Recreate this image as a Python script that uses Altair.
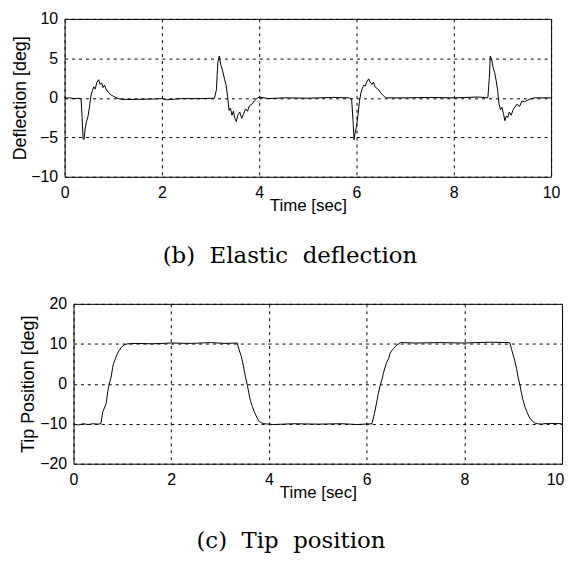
import altair as alt
import pandas as pd

# ---- (b) Elastic deflection ----
defl_t = [0.00, 0.10, 0.20, 0.30, 0.34, 0.36, 0.38, 0.40, 0.42, 0.45, 0.48, 0.51, 0.54, 0.57,
          0.60, 0.63, 0.66, 0.70, 0.73, 0.76, 0.79, 0.82, 0.86, 0.90, 0.95, 1.00, 1.10, 1.20,
          1.50, 1.80, 2.00, 2.10, 2.40, 2.80, 3.08, 3.12, 3.15, 3.18, 3.21, 3.25, 3.29, 3.32,
          3.35, 3.38, 3.41, 3.44, 3.47, 3.50, 3.53, 3.56, 3.60, 3.64, 3.68, 3.72, 3.76, 3.80,
          3.85, 3.90, 3.95, 4.00, 4.20, 4.50, 5.00, 5.50, 5.85, 5.90, 5.93, 5.95, 5.97, 6.00,
          6.03, 6.06, 6.09, 6.12, 6.15, 6.18, 6.21, 6.25, 6.28, 6.32, 6.35, 6.38, 6.42, 6.46,
          6.50, 6.55, 6.60, 7.00, 7.50, 8.00, 8.50, 8.70, 8.73, 8.75, 8.78, 8.81, 8.84, 8.87,
          8.90, 8.93, 8.96, 8.99, 9.02, 9.05, 9.08, 9.11, 9.14, 9.18, 9.22, 9.25, 9.30, 9.35,
          9.40, 9.45, 9.55, 9.65, 10.0]
defl_v = [-0.05, 0.0, -0.1, -0.05, -0.2, -2.5, -5.2, -5.3, -4.0, -3.0, -2.4, -1.2, 0.2, 0.9,
          1.4, 1.1, 1.9, 2.3, 1.7, 1.9, 1.3, 1.6, 1.0, 0.7, 0.4, 0.2, -0.1, -0.2,
          -0.2, -0.15, -0.1, -0.25, -0.1, -0.1, -0.05, 1.0, 4.5, 5.3, 4.2, 3.4, 2.3, 1.6,
          0.2, -1.6, -1.3, -2.2, -1.7, -2.6, -3.0, -2.2, -1.8, -2.6, -2.0, -1.4, -1.7, -1.0,
          -0.8, -0.4, -0.1, 0.1, -0.1, 0.0, -0.05, 0.05, 0.0, -0.2, -3.0, -5.3, -4.5, -3.6,
          -2.2, -0.5, 0.6, 1.2, 1.6, 1.5, 2.0, 2.4, 2.0, 1.7, 2.0, 1.4, 1.2, 1.0,
          0.6, 0.3, 0.0, 0.0, 0.05, 0.0, 0.1, 0.0, 2.5, 5.3, 4.8, 3.8, 3.2, 2.2,
          1.0, -0.8, -1.5, -1.2, -2.0, -2.9, -2.3, -2.5, -1.8, -2.2, -1.5, -1.2, -0.8, -1.1,
          -0.4, -0.5, -0.2, 0.0, 0.0]

# ---- (c) Tip position ----
tip_t = [0.00, 0.10, 0.20, 0.30, 0.40, 0.50, 0.56, 0.60, 0.64, 0.67, 0.70, 0.72, 0.75, 0.77,
         0.80, 0.82, 0.85, 0.87, 0.90, 0.94, 0.98, 1.01, 1.05, 1.11, 1.30, 1.60, 2.00, 2.40,
         2.80, 3.10, 3.35, 3.39, 3.43, 3.46, 3.49, 3.52, 3.56, 3.59, 3.62, 3.66, 3.70, 3.73,
         3.77, 3.80, 3.85, 3.90, 4.10, 4.50, 5.00, 5.50, 5.80, 6.11, 6.16, 6.20, 6.24, 6.27,
         6.31, 6.34, 6.38, 6.41, 6.45, 6.48, 6.52, 6.55, 6.58, 6.63, 6.69, 7.00, 7.50, 8.00,
         8.50, 8.93, 8.97, 9.00, 9.03, 9.07, 9.10, 9.14, 9.17, 9.20, 9.24, 9.29, 9.34, 9.39,
         9.44, 9.50, 9.58, 9.70, 10.0]
tip_v = [-10.1, -10.3, -10.0, -10.2, -10.0, -10.1, -10.0, -7.0, -5.8, -4.9, -2.0, -0.7, 0.8, 1.7,
         4.0, 5.1, 6.0, 6.7, 7.6, 8.4, 9.1, 9.5, 9.8, 10.0, 10.1, 10.0, 10.2, 10.1,
         10.3, 10.1, 10.2, 8.5, 7.0, 5.5, 3.6, 1.7, -0.4, -2.4, -4.2, -5.7, -7.0, -7.8,
         -8.8, -9.4, -9.8, -10.0, -10.2, -10.0, -10.1, -10.0, -10.2, -10.0, -7.4, -5.0, -2.4, -0.8,
         0.9, 2.5, 4.2, 5.4, 6.3, 7.6, 8.4, 8.8, 9.2, 9.8, 10.3, 10.2, 10.3, 10.2,
         10.4, 10.3, 8.5, 7.2, 5.9, 3.8, 1.7, -0.4, -2.4, -4.0, -5.7, -7.3, -8.6, -9.3,
         -9.8, -10.0, -10.1, -9.9, -10.0]

x_ticks = [0, 2, 4, 6, 8, 10]
defl_ticks = [-10, -5, 0, 5, 10]
tip_ticks = [-20, -10, 0, 10, 20]

NB = "\u00a0"
caption_b = "(b)" + NB + " Elastic" + NB + " deflection"
caption_c = "(c)" + NB + " Tip" + NB + " position"


def panel(t, v, ytitle, ydomain, yticks, w, h, caption, left_ext, ytitle_x, cap_dx, cap_off,
          last_shift):
    df = pd.DataFrame({"t": t, "v": v})
    line = alt.Chart(df).mark_line(color="black", strokeWidth=1).encode(
        x=alt.X("t:Q", scale=alt.Scale(domain=[0, 10], nice=False, zero=False),
                axis=alt.Axis(values=x_ticks, title="Time [sec]", labelPadding=8,
                              labelFlush=False,
                              labelOffset={"condition": {"test": "datum.value == 10",
                                                         "value": last_shift},
                                           "value": 0},
                              titleY=34, titleBaseline="alphabetic", titleFontSize=17)),
        y=alt.Y("v:Q", scale=alt.Scale(domain=ydomain, nice=False, zero=False),
                axis=alt.Axis(values=yticks, title=ytitle, labelPadding=7,
                              titleX=ytitle_x, titleBaseline="middle", titleFontSize=18)),
    )
    ghost = alt.Chart(pd.DataFrame({"g": [0]})).mark_rule(opacity=0).encode(
        x=alt.value(-left_ext + 0.5), y=alt.value(0), y2=alt.value(1))
    return alt.layer(line, ghost).properties(
        width=w, height=h,
        title=alt.TitleParams(caption, orient="bottom", anchor="middle", frame="bounds",
                              offset=cap_off, dx=cap_dx),
    )


def spacer(w):
    return alt.Chart(pd.DataFrame({"s": [0]})).mark_rule(opacity=0).encode(
        x=alt.value(0.5), y=alt.value(0), y2=alt.value(1)
    ).properties(width=w, height=1, view=alt.ViewBackground(stroke="transparent"))


top = panel(defl_t, defl_v, "Deflection [deg]", [-10, 10], defl_ticks, 490, 159,
            caption_b, 53, -44, 4, 32, 0)
bottom = panel(tip_t, tip_v, "Tip Position [deg]", [-20, 20], tip_ticks, 492, 161,
               caption_c, 54, -45, -1, 30, -7)

chart = alt.vconcat(
    alt.hconcat(spacer(1), top, spacing=0),
    alt.hconcat(spacer(9), bottom, spacing=0),
    spacing=26,
).properties(
    padding={"left": 0, "top": 0, "right": 0, "bottom": 0},
    background="white",
).configure_view(
    stroke="black", strokeWidth=1
).configure_axis(
    grid=True, gridColor="black", gridDash=[3, 4], gridWidth=1, gridOpacity=1,
    ticks=False, domain=False,
    labelFont="Liberation Sans", labelFontSize=16, labelColor="black",
    titleFont="Liberation Sans", titleFontWeight="normal", titleColor="black",
).configure_title(
    font="DejaVu Serif", fontSize=23, fontWeight="normal", color="black",
)

chart.save("out.html", embed_options={"renderer": "svg", "actions": False})
